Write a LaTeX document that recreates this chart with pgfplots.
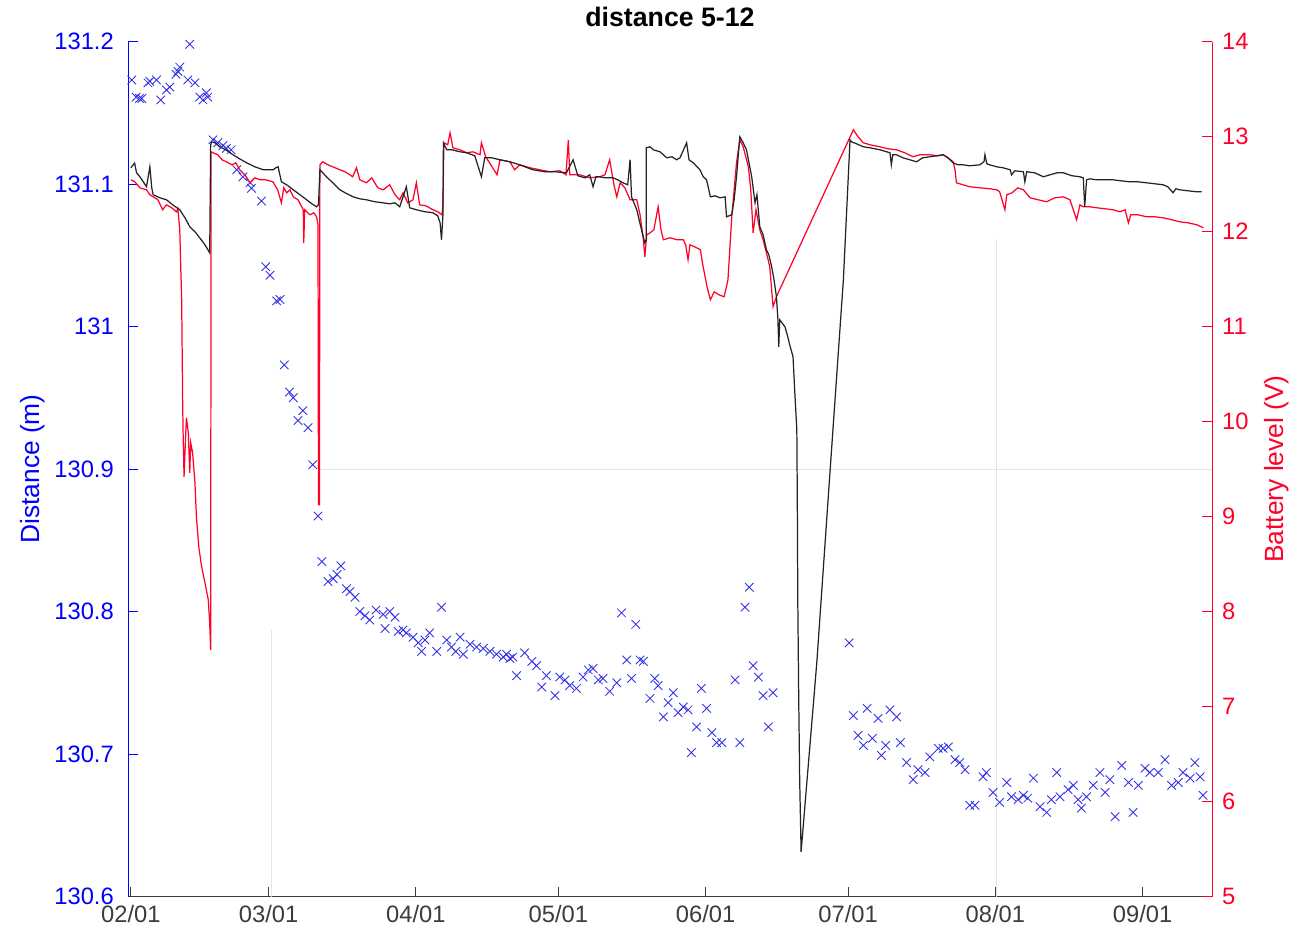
\documentclass[border=0pt]{standalone}
\usepackage{fontspec}
\setmainfont{Liberation Sans}
\usepackage{pgfplots}
\pgfplotsset{compat=1.18}

\definecolor{distblue}{RGB}{0,0,255}
\definecolor{markblue}{RGB}{50,50,235}
\definecolor{battred}{RGB}{255,0,40}
\definecolor{lineblack}{RGB}{35,35,35}
\definecolor{axisgray}{RGB}{60,60,60}

\begin{document}
\begin{tikzpicture}[font=\fontsize{13.5}{16}\selectfont]
\useasboundingbox (-25.6mm,-8.8mm) rectangle (235.2mm,179.3mm);

% left axis: measured distance
\begin{axis}[
  name=main,
  scale only axis, width=216.8mm, height=171mm,
  xmin=-0.6, xmax=227.6,
  ymin=130.6, ymax=131.2,
  axis y line*=left, axis x line*=bottom,
  x axis line style={-, axisgray, line width=0.5pt},
  y axis line style={-, distblue, line width=0.5pt},
  xtick={0,29,60,90,121,151,182,213},
  xticklabels={02/01,03/01,04/01,05/01,06/01,07/01,08/01,09/01},
  ytick={130.6,130.7,130.8,130.9,131,131.1,131.2},
  major tick length=2mm,
  tick align=inside,
  x tick style={axisgray, line width=0.5pt},
  y tick style={distblue, line width=0.5pt},
  xticklabel style={text=axisgray, yshift=-0.6mm},
  yticklabel style={text=distblue, xshift=-1.6mm},
  /pgf/number format/assume math mode=true,
  ylabel={Distance (m)},
  ylabel style={text=distblue, at={(axis description cs:-0.0876,0.5)}, anchor=center, font=\fontsize{15}{18}\selectfont},
  title={\bfseries distance 5-12},
  title style={at={(axis description cs:0.5,1)}, anchor=base, yshift=0.8mm, font=\fontsize{15.2}{18}\selectfont},
  clip=false,
]
% faint reference lines
\draw[black!10, line width=0.4pt] (axis cs:39.8,130.9) -- (axis cs:227.6,130.9);
\draw[black!10, line width=0.4pt] (axis cs:29.5,130.787) -- (axis cs:29.5,130.6);
\draw[black!10, line width=0.4pt] (axis cs:182.3,131.061) -- (axis cs:182.3,130.6);

\addplot[only marks, mark=x, mark size=1.2mm, markblue, mark options={line width=0.5pt}] coordinates {
(0.2,131.173)(1.1,131.161)(1.8,131.160)(2.3,131.160)(3.6,131.171)(4.0,131.172)(5.4,131.173)(6.3,131.159)(7.5,131.166)(8.2,131.168)
(9.5,131.177)(9.9,131.179)(10.3,131.182)(12.0,131.173)(12.4,131.198)(13.5,131.171)(14.5,131.161)(15.2,131.159)(15.9,131.164)(16.2,131.161)
(17.3,131.131)(18.3,131.129)(19.4,131.127)(20.1,131.125)(21.1,131.124)(22.3,131.110)(23.6,131.105)(25.1,131.101)(25.4,131.097)(27.5,131.088)
(28.4,131.042)(29.3,131.036)(30.7,131.018)(31.4,131.019)(32.3,130.973)(33.4,130.954)(34.2,130.950)(35.2,130.934)(36.2,130.941)(37.3,130.929)
(38.3,130.903)(39.4,130.867)(40.2,130.835)(41.5,130.821)(42.6,130.823)(43.4,130.826)(44.2,130.832)(45.4,130.816)(46.1,130.814)(47.2,130.810)
(48.2,130.800)(49.3,130.797)(50.3,130.794)(51.6,130.801)(53.1,130.798)(53.5,130.788)(54.5,130.800)(55.6,130.796)(56.3,130.786)(57.3,130.787)
(58.0,130.785)(59.4,130.782)(60.5,130.778)(61.2,130.772)(61.9,130.780)(62.9,130.785)(64.4,130.772)(65.4,130.803)(66.5,130.780)(67.5,130.775)
(68.4,130.772)(69.3,130.782)(70.0,130.770)(71.4,130.777)(72.8,130.775)(74.2,130.774)(75.6,130.772)(77.0,130.770)(78.4,130.768)(79.1,130.770)
(79.8,130.767)(80.4,130.768)(81.2,130.755)(82.9,130.771)(84.4,130.765)(85.4,130.762)(86.5,130.747)(87.5,130.755)(89.3,130.741)(90.3,130.754)
(91.4,130.752)(92.4,130.748)(93.8,130.746)(95.2,130.754)(96.3,130.759)(97.3,130.760)(98.4,130.752)(99.4,130.753)(100.8,130.744)(102.3,130.750)
(103.3,130.799)(104.4,130.766)(105.4,130.753)(106.3,130.791)(107.2,130.766)(107.9,130.765)(109.3,130.739)(110.3,130.753)(111.0,130.748)(112.1,130.726)
(113.1,130.736)(114.2,130.743)(115.2,130.729)(116.3,130.733)(117.3,130.731)(118.0,130.701)(119.1,130.719)(120.1,130.746)(121.2,130.732)(122.3,130.715)
(123.3,130.708)(124.4,130.708)(127.2,130.752)(128.2,130.708)(129.3,130.803)(130.2,130.817)(131.0,130.762)(132.1,130.754)(133.1,130.741)(134.2,130.719)
(135.2,130.743)(151.2,130.778)(152.1,130.727)(153.1,130.713)(154.2,130.706)(155.0,130.732)(156.1,130.711)(157.3,130.725)(158.0,130.699)(158.9,130.706)
(159.8,130.731)(161.2,130.726)(162.0,130.708)(163.3,130.694)(164.7,130.682)(165.7,130.689)(167.2,130.687)(168.2,130.698)(170.0,130.704)(171.0,130.704)
(172.1,130.705)(173.5,130.696)(174.5,130.694)(175.6,130.689)(176.6,130.664)(177.7,130.664)(179.4,130.684)(180.1,130.687)(181.5,130.673)(182.9,130.666)
(184.4,130.680)(185.4,130.670)(186.8,130.668)(187.9,130.671)(188.8,130.669)(190.0,130.683)(191.4,130.663)(192.8,130.659)(193.8,130.668)(194.9,130.687)
(195.6,130.670)(197.3,130.675)(198.4,130.678)(199.4,130.668)(200.1,130.662)(201.2,130.670)(202.6,130.678)(204.0,130.687)(205.1,130.673)(206.1,130.682)
(207.2,130.656)(208.6,130.692)(210.0,130.680)(211.0,130.659)(212.1,130.678)(213.5,130.690)(214.5,130.687)(216.3,130.687)(217.7,130.696)(219.1,130.678)
(220.5,130.680)(221.5,130.687)(223.0,130.683)(224.0,130.694)(225.1,130.684)(225.7,130.671)
};
\end{axis}

% right axis: battery voltages
\begin{axis}[
  scale only axis, width=216.8mm, height=171mm,
  xmin=-0.6, xmax=227.6,
  ymin=5, ymax=14,
  axis y line*=right, axis x line=none,
  y axis line style={-, battred, line width=0.5pt},
  ytick={5,6,...,14},
  major tick length=2mm,
  tick align=inside,
  y tick style={battred, line width=0.5pt},
  yticklabel style={text=battred, xshift=0.8mm},
  /pgf/number format/assume math mode=true,
  ylabel={Battery level (V)},
  ylabel style={text=battred, at={(axis description cs:1.060,0.5)}, anchor=center, rotate=0, font=\fontsize{15}{18}\selectfont},
  clip=false,
]
\addplot[battred, line width=0.7pt] coordinates {
(0,12.544)(0.8,12.526)(1.9,12.460)(3.3,12.439)(4.0,12.387)(5.7,12.334)(6.7,12.229)(7.5,12.281)(8.6,12.250)(9.6,12.207)
(9.9,12.239)(10.3,12.018)(10.5,11.629)(10.7,11.281)(10.8,10.755)(10.9,10.229)(11.0,9.881)(11.2,9.418)(11.5,9.808)(11.7,10.039)
(12.1,9.881)(12.4,9.460)(12.6,9.776)(13.0,9.671)(13.5,9.355)(13.8,8.997)(14.3,8.681)(14.9,8.471)(15.6,8.302)(16.3,8.123)
(16.6,7.881)(16.8,7.597)(16.9,12.839)(17.3,12.829)(18.3,12.808)(19.2,12.755)(20.1,12.734)(21.3,12.702)(22.1,12.723)(22.9,12.650)
(24.0,12.597)(25.1,12.513)(26.1,12.565)(27.2,12.544)(28.4,12.544)(29.9,12.523)(30.9,12.439)(31.7,12.302)(32.2,12.460)(32.8,12.407)
(33.5,12.439)(34.2,12.365)(35.2,12.334)(36.3,12.229)(36.4,11.881)(36.6,12.229)(37.7,12.176)(38.5,12.197)(39.1,12.155)(39.4,12.071)
(39.5,9.123)(39.7,9.123)(39.8,12.702)(40.4,12.734)(41.5,12.702)(42.5,12.681)(44.0,12.650)(45.1,12.629)(46.1,12.597)(46.7,12.576)
(47.5,12.671)(48.2,12.544)(49.6,12.513)(50.7,12.565)(52.0,12.460)(53.1,12.439)(54.5,12.492)(55.6,12.387)(56.6,12.334)(57.3,12.407)
(58.3,12.302)(59.4,12.334)(60.1,12.513)(60.8,12.281)(62.1,12.271)(63.6,12.229)(64.6,12.208)(65.5,12.176)(65.7,12.281)(65.9,12.934)
(66.7,12.913)(67.2,13.039)(67.8,12.881)(69.3,12.860)(70.7,12.829)(72.0,12.839)(73.5,12.808)(73.8,12.934)(74.7,12.787)(77.1,12.597)
(77.7,12.755)(79.8,12.734)(80.8,12.650)(81.9,12.702)(84.0,12.671)(86.1,12.650)(88.2,12.629)(90.3,12.639)(91.6,12.597)(92.1,12.965)
(92.4,12.597)(94.5,12.597)(96.6,12.565)(98.7,12.576)(99.8,12.597)(100.8,12.755)(101.7,12.492)(102.3,12.365)(103.0,12.513)(104.0,12.460)
(105.1,12.334)(106.5,12.334)(107.2,12.176)(107.9,11.913)(108.2,11.734)(108.6,11.965)(109.3,11.986)(110.1,12.018)(111.0,12.260)(111.6,12.018)
(112.1,11.913)(113.5,11.934)(115.0,11.913)(116.3,11.913)(116.8,11.860)(117.3,11.702)(117.7,11.860)(118.7,11.839)(119.9,11.808)(120.4,11.650)
(121.3,11.418)(122.0,11.281)(122.8,11.365)(123.8,11.334)(124.9,11.313)(125.7,11.492)(126.5,12.155)(127.5,12.723)(128.2,12.965)(128.9,12.892)
(130.0,12.681)(130.5,12.439)(131.0,11.986)(131.6,12.229)(132.4,12.018)(133.1,11.913)(133.9,11.755)(134.5,11.629)(135.2,11.208)(135.9,11.313)
(152.1,13.071)(153.1,12.997)(154.2,12.934)(155.6,12.913)(157.7,12.892)(159.4,12.871)(161.2,12.860)(162.9,12.829)(164.7,12.787)(166.1,12.808)
(168.2,12.808)(169.9,12.797)(171.0,12.808)(172.0,12.776)(173.1,12.734)(173.5,12.650)(173.8,12.513)(175.2,12.492)(176.6,12.471)(178.7,12.460)
(180.8,12.450)(182.3,12.439)(182.9,12.418)(184.0,12.229)(184.4,12.387)(185.5,12.407)(186.7,12.460)(187.9,12.439)(189.3,12.355)(191.0,12.334)
(192.8,12.313)(194.5,12.355)(196.3,12.365)(197.7,12.334)(199.1,12.123)(199.8,12.281)(200.5,12.260)(201.9,12.260)(203.3,12.250)(205.1,12.239)
(206.8,12.229)(208.2,12.208)(209.3,12.229)(210.0,12.092)(210.5,12.176)(212.0,12.176)(213.8,12.155)(215.6,12.155)(217.3,12.144)(219.2,12.123)
(220.8,12.102)(222.5,12.092)(224.4,12.071)(225.8,12.039)
};
\addplot[lineblack, line width=0.7pt] coordinates {
(0,12.671)(0.8,12.720)(1.2,12.618)(1.9,12.576)(3.3,12.471)(4.0,12.681)(4.4,12.460)(4.7,12.387)(6.1,12.355)(7.5,12.334)
(8.8,12.281)(10.3,12.229)(11.4,12.144)(12.4,12.050)(13.5,11.997)(14.5,11.934)(15.6,11.860)(16.6,11.776)(16.8,12.913)(17.0,12.944)
(17.7,12.934)(18.7,12.892)(20.0,12.860)(21.5,12.808)(22.9,12.765)(24.4,12.723)(26.1,12.681)(27.9,12.650)(28.8,12.650)(30.0,12.650)
(30.5,12.671)(31.0,12.681)(31.7,12.523)(32.8,12.492)(34.2,12.439)(35.6,12.387)(37.0,12.334)(38.1,12.292)(39.1,12.260)(39.5,12.281)
(39.8,12.650)(41.2,12.576)(42.5,12.513)(44.0,12.439)(45.5,12.397)(46.8,12.365)(48.2,12.344)(49.6,12.334)(51.4,12.313)(53.1,12.302)
(54.5,12.292)(55.6,12.302)(56.6,12.260)(58.0,12.471)(58.7,12.250)(60.1,12.229)(61.9,12.208)(63.6,12.197)(64.6,12.165)(65.1,12.092)
(65.4,11.913)(65.7,12.176)(65.8,12.934)(66.5,12.860)(67.6,12.860)(69.3,12.839)(70.7,12.829)(72.4,12.797)(73.8,12.576)(74.5,12.776)
(76.0,12.776)(77.7,12.755)(79.8,12.734)(81.9,12.702)(84.6,12.650)(87.2,12.629)(89.3,12.629)(91.7,12.618)(93.1,12.755)(94.1,12.587)
(95.6,12.565)(96.6,12.597)(97.3,12.471)(97.9,12.576)(98.7,12.576)(100.0,12.565)(101.5,12.565)(102.5,12.544)(103.6,12.513)(104.6,12.492)
(105.1,12.755)(105.4,12.365)(106.5,12.229)(107.5,12.018)(108.2,11.881)(108.5,11.913)(108.5,12.881)(109.3,12.892)(110.0,12.860)(111.4,12.839)
(112.8,12.776)(113.9,12.787)(114.9,12.755)(115.6,12.776)(117.0,12.934)(117.5,12.755)(118.4,12.723)(119.8,12.650)(120.5,12.576)(121.2,12.544)
(122.0,12.365)(123.0,12.376)(124.0,12.355)(125.1,12.365)(125.4,12.155)(126.5,12.176)(127.0,12.334)(127.5,12.576)(128.2,12.997)(128.8,12.944)
(129.6,12.860)(130.7,12.576)(131.4,12.302)(131.8,12.387)(132.4,12.050)(133.1,11.966)(133.8,11.808)(134.3,11.755)(134.9,11.629)(135.4,11.492)
(135.9,11.313)(136.2,11.092)(136.4,10.787)(136.6,11.071)(137.7,10.997)(138.3,10.892)(138.7,10.807)(139.4,10.681)(139.8,10.281)(140.2,9.913)
(140.3,9.176)(140.4,8.123)(140.6,7.071)(140.8,6.229)(141.1,5.471)(144.4,7.460)(147.2,9.481)(150.0,11.492)(151.4,12.965)(151.7,12.944)
(152.8,12.923)(154.2,12.892)(155.6,12.881)(157.7,12.860)(159.8,12.829)(160.1,12.702)(160.4,12.808)(161.2,12.808)(162.5,12.776)(164.0,12.755)
(165.4,12.734)(166.7,12.776)(168.2,12.787)(169.7,12.797)(171.0,12.808)(172.0,12.776)(173.1,12.723)(174.1,12.702)(175.2,12.702)(176.6,12.692)
(178.7,12.702)(179.6,12.734)(179.8,12.808)(180.2,12.713)(180.8,12.702)(182.3,12.681)(183.6,12.671)(185.1,12.650)(185.4,12.597)(186.1,12.639)
(187.9,12.629)(188.2,12.523)(188.6,12.629)(190.3,12.618)(192.1,12.576)(193.5,12.597)(195.0,12.618)(196.3,12.618)(198.1,12.587)(199.8,12.576)
(200.5,12.565)(200.8,12.260)(201.2,12.544)(201.9,12.555)(203.3,12.544)(205.1,12.544)(206.8,12.544)(208.4,12.534)(210.3,12.523)(212.0,12.523)
(213.8,12.513)(215.6,12.502)(217.3,12.492)(218.3,12.471)(219.4,12.408)(220.0,12.450)(220.8,12.439)(222.5,12.429)(224.4,12.418)(225.4,12.418)
};
\end{axis}
\end{tikzpicture}
\end{document}
